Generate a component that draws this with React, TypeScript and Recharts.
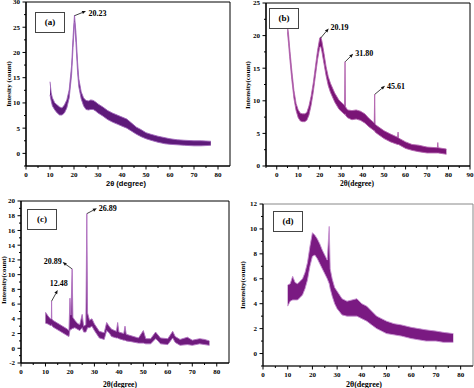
import React from 'react';
import {
  ComposedChart,
  Area,
  XAxis,
  YAxis,
  ReferenceArea,
  ReferenceLine,
  ReferenceDot,
} from 'recharts';

const SERIF = '"Liberation Serif", "Times New Roman", serif';
const SANS = '"Liberation Sans", Arial, sans-serif';

// panel (a)
const angleA = [10, 10.5, 11, 12, 13, 14, 15, 16, 17, 18, 19, 19.6, 20.2, 20.8, 21.5, 22, 23, 24, 25, 26, 27, 28, 29, 30, 32, 34, 36, 38, 40, 42, 44, 46, 48, 50, 52, 55, 58, 60, 63, 66, 70, 73, 77];
const lowA = [11.6, 10.4, 9.4, 8.6, 8.0, 7.6, 7.6, 8.0, 9.0, 11.0, 15.6, 21.0, 26.0, 22.0, 16.0, 13.2, 10.8, 9.4, 8.7, 8.6, 8.7, 8.7, 8.4, 8.0, 7.4, 6.7, 6.2, 5.8, 5.4, 5.0, 4.4, 3.8, 3.3, 2.9, 2.6, 2.2, 1.9, 1.8, 1.7, 1.6, 1.5, 1.5, 1.6];
const highA = [14.2, 12.0, 11.0, 10.0, 9.6, 9.2, 9.0, 9.6, 10.6, 12.6, 17.4, 23.0, 27.4, 24.0, 18.0, 14.8, 12.2, 11.0, 10.5, 10.4, 10.6, 10.5, 10.2, 9.8, 9.2, 8.5, 8.0, 7.6, 7.2, 6.8, 6.0, 5.2, 4.7, 4.1, 3.8, 3.4, 3.1, 2.9, 2.7, 2.6, 2.5, 2.5, 2.4];

// panel (b)
const angleB = [5, 5.5, 6, 7, 8, 9, 10, 11, 12, 13, 14, 15, 16, 17, 18, 19, 20, 20.5, 21, 22, 23, 24, 25, 27, 29, 31.6, 31.8, 32, 33, 35, 37, 39, 41, 43, 45.4, 45.61, 45.8, 47, 50, 53, 56.3, 56.5, 56.7, 60, 63, 66, 70, 74.8, 75, 75.2, 79];
const lowB = [20.5, 18.8, 16.8, 13.3, 10.4, 8.5, 7.4, 6.9, 6.8, 6.8, 7.0, 7.8, 9.3, 11.3, 13.8, 16.3, 18.2, 18.3, 17.6, 15.7, 13.8, 12.3, 11.3, 9.8, 8.7, 7.9, 8.0, 7.8, 7.4, 7.1, 7.2, 7.0, 6.6, 6.0, 5.4, 5.4, 5.2, 4.9, 4.2, 3.7, 3.3, 3.3, 3.3, 2.7, 2.4, 2.2, 2.0, 2.0, 2.0, 2.0, 1.8];
const highB = [21.6, 20.2, 18.2, 14.7, 11.6, 9.6, 8.6, 8.1, 8.0, 8.0, 8.2, 9.2, 10.7, 12.7, 15.2, 17.7, 19.6, 19.8, 19.2, 17.3, 15.2, 13.7, 12.7, 11.2, 10.1, 9.3, 16.0, 9.1, 8.6, 8.5, 8.6, 8.4, 8.0, 7.3, 6.6, 11.0, 6.4, 6.1, 5.4, 4.9, 4.4, 5.2, 4.3, 3.7, 3.3, 3.2, 2.9, 2.8, 3.6, 2.8, 2.6];

// panel (c)
const angleC = [10, 11, 12, 12.4, 12.5, 12.6, 13, 15, 17, 19, 19.6, 20, 20.4, 20.9, 21.2, 22, 23, 24, 25, 25.6, 26.5, 26.9, 27.2, 28, 29, 30, 32, 34, 35, 36, 37, 39, 39.5, 40, 42, 42.5, 43, 45, 48, 50, 51, 53, 55, 56, 57, 60, 62, 63, 65, 68, 70, 73, 75, 77];
const lowC = [3.4, 3.3, 3.1, 3.1, 3.2, 3.1, 2.9, 2.5, 2.1, 1.7, 1.6, 2.5, 2.5, 2.7, 2.7, 2.8, 2.6, 2.4, 2.8, 2.2, 2.2, 2.5, 2.8, 2.8, 3.0, 2.4, 1.4, 1.2, 2.4, 2.1, 1.6, 1.4, 1.4, 1.3, 1.1, 1.1, 1.0, 0.9, 0.7, 0.7, 0.6, 0.6, 1.3, 1.0, 0.6, 0.5, 1.4, 0.8, 0.4, 0.5, 0.4, 0.6, 0.5, 0.4];
const highC = [4.9, 4.4, 4.0, 4.0, 6.4, 4.0, 3.8, 3.4, 3.0, 2.6, 2.4, 6.8, 4.5, 10.8, 4.2, 3.8, 3.4, 3.2, 4.6, 3.0, 3.2, 18.3, 4.8, 3.8, 4.0, 3.3, 2.3, 2.1, 3.5, 3.0, 2.6, 2.3, 3.5, 2.2, 2.0, 3.0, 1.9, 1.7, 1.4, 2.4, 1.3, 1.3, 2.2, 1.8, 1.4, 1.3, 2.3, 1.6, 1.2, 1.5, 1.1, 1.3, 1.2, 1.0];

// panel (d)
const angleD = [10, 11, 12, 13, 14, 15, 16, 17, 18, 19, 20, 21, 22, 23, 24, 25, 26, 26.8, 27.2, 28, 29, 30, 32, 34, 36, 38, 40, 42, 44, 46, 48, 50, 53, 56, 60, 63, 66, 70, 73, 77];
const lowD = [3.8, 4.2, 4.3, 4.3, 4.3, 4.5, 4.7, 5.2, 5.9, 7.0, 7.8, 7.9, 7.6, 7.2, 6.8, 6.4, 6.0, 5.6, 5.2, 4.6, 4.0, 3.6, 3.1, 3.0, 3.0, 3.0, 2.8, 2.6, 2.3, 2.0, 1.8, 1.6, 1.5, 1.4, 1.2, 1.1, 1.0, 1.0, 0.9, 0.9];
const highD = [5.5, 5.6, 6.2, 5.7, 5.6, 5.8, 6.0, 6.5, 7.3, 8.6, 9.7, 9.5, 9.2, 8.8, 8.3, 7.9, 7.5, 10.2, 6.8, 6.0, 5.3, 5.0, 4.4, 4.2, 4.3, 4.4, 4.0, 3.8, 3.4, 3.0, 2.8, 2.6, 2.4, 2.3, 2.1, 2.0, 1.9, 1.8, 1.7, 1.6];

const buildBand = (angle: number[], low: number[], high: number[]) =>
  angle.map((a, i) => ({ angle: a, band: [low[i], high[i]] }));

const steps = (from: number, to: number, step: number) => {
  const out: number[] = [];
  for (let v = from; v <= to + 1e-9; v += step) out.push(Math.round(v * 100) / 100);
  return out;
};

const makeXTick = (major: number, size: number) => (props: any) => {
  const { x, y, payload } = props;
  const isMajor = Math.abs(payload.value % major) < 1e-6;
  return (
    <g>
      <line x1={x} y1={y} x2={x} y2={y + (isMajor ? 3.5 : 2)} stroke="#000" strokeWidth={1} />
      {isMajor && (
        <text x={x} y={y + 10.5} textAnchor="middle" fontSize={size} fontWeight="bold" fontFamily={SERIF} fill="#000">
          {payload.value}
        </text>
      )}
    </g>
  );
};

const makeYTick = (major: number, size: number) => (props: any) => {
  const { x, y, payload } = props;
  const isMajor = Math.abs(payload.value % major) < 1e-6;
  return (
    <g>
      <line x1={x} y1={y} x2={x - (isMajor ? 3.5 : 2)} y2={y} stroke="#000" strokeWidth={1} />
      {isMajor && (
        <text x={x - 6} y={y + 2.4} textAnchor="end" fontSize={size} fontWeight="bold" fontFamily={SERIF} fill="#000">
          {payload.value}
        </text>
      )}
    </g>
  );
};

const arrowShape = (p: any) => {
  const { x1, y1, x2, y2 } = p;
  const ang = Math.atan2(y2 - y1, x2 - x1);
  const L = 4;
  const W = 1.6;
  const bx = x2 - L * Math.cos(ang);
  const by = y2 - L * Math.sin(ang);
  const nx = -Math.sin(ang) * W;
  const ny = Math.cos(ang) * W;
  return (
    <g>
      <line x1={x1} y1={y1} x2={bx} y2={by} stroke="#111" strokeWidth={0.8} />
      <polygon points={`${x2},${y2} ${bx + nx},${by + ny} ${bx - nx},${by - ny}`} fill="#111" />
    </g>
  );
};

interface Note {
  text: string;
  tx: number;
  ty: number;
  from: [number, number];
  to: [number, number];
}

interface PanelProps {
  data: { angle: number; band: number[] }[];
  left: number;
  top: number;
  margin: { top: number; right: number; left: number; bottom: number };
  yWidth: number;
  xHeight: number;
  xDomain: [number, number];
  yDomain: [number, number];
  xTicks: number[];
  yTicks: number[];
  xMajor: number;
  yMajor: number;
  fill: string;
  edge: string;
  frame: string;
  notes: Note[];
}

function Panel(p: PanelProps) {
  return (
    <div style={{ position: 'absolute', left: p.left, top: p.top }}>
      <ComposedChart width={237} height={194} data={p.data} margin={p.margin}>
        <XAxis
          dataKey="angle"
          type="number"
          domain={p.xDomain}
          ticks={p.xTicks}
          interval={0}
          height={p.xHeight}
          tickSize={0}
          tickMargin={0}
          tickLine={false}
          axisLine={{ stroke: '#000', strokeWidth: 1.2 }}
          tick={makeXTick(p.xMajor, 7)}
          allowDataOverflow
        />
        <YAxis
          type="number"
          domain={p.yDomain}
          ticks={p.yTicks}
          interval={0}
          width={p.yWidth}
          tickSize={0}
          tickMargin={0}
          tickLine={false}
          axisLine={{ stroke: '#000', strokeWidth: 1.2 }}
          tick={makeYTick(p.yMajor, 7)}
          allowDataOverflow
        />
        <ReferenceArea
          x1={p.xDomain[0]}
          x2={p.xDomain[1]}
          y1={p.yDomain[0]}
          y2={p.yDomain[1]}
          fill="none"
          stroke={p.frame}
          strokeWidth={1}
          ifOverflow="visible"
        />
        <Area
          dataKey="band"
          type="linear"
          stroke={p.edge}
          strokeWidth={0.9}
          fill={p.fill}
          fillOpacity={1}
          dot={false}
          activeDot={false}
          isAnimationActive={false}
        />
        {p.notes.map((n) => (
          <ReferenceLine
            key={n.text + 'l'}
            segment={[{ x: n.from[0], y: n.from[1] }, { x: n.to[0], y: n.to[1] }]}
            shape={arrowShape}
            ifOverflow="visible"
          />
        ))}
        {p.notes.map((n) => (
          <ReferenceDot
            key={n.text + 'd'}
            x={n.tx}
            y={n.ty}
            r={0}
            fill="none"
            stroke="none"
            ifOverflow="visible"
            label={{ value: n.text, position: 'center', fontSize: 8, fontWeight: 'bold', fontFamily: SERIF, fill: '#000' }}
          />
        ))}
      </ComposedChart>
    </div>
  );
}

const boxStyle = (left: number, top: number): React.CSSProperties => ({
  position: 'absolute',
  left,
  top,
  width: 28,
  height: 19,
  border: '1px solid #444',
  fontFamily: SERIF,
  fontWeight: 'bold',
  fontSize: 9,
  lineHeight: '19px',
  textAlign: 'center',
  background: '#fff',
});

const yTitle = (text: string, cx: number, cy: number): React.ReactNode => (
  <div
    style={{
      position: 'absolute',
      left: cx,
      top: cy,
      transform: 'translate(-50%, -50%) rotate(-90deg)',
      whiteSpace: 'nowrap',
      fontFamily: SERIF,
      fontWeight: 'bold',
      fontSize: 7,
    }}
  >
    {text}
  </div>
);

const xTitle = (text: string, cx: number, cy: number, font: string, size: number): React.ReactNode => (
  <div
    style={{
      position: 'absolute',
      left: cx,
      top: cy,
      transform: 'translate(-50%, -50%)',
      whiteSpace: 'nowrap',
      fontFamily: font,
      fontWeight: 'bold',
      fontSize: size,
    }}
  >
    {text}
  </div>
);

export default function App() {
  return (
    <div style={{ position: 'absolute', left: 0, top: 0, width: 474, height: 388, background: '#fff', overflow: 'hidden' }}>
      <Panel
        data={buildBand(angleA, lowA, highA)}
        left={0}
        top={0}
        margin={{ top: 2, right: 7, left: 0, bottom: 0 }}
        yWidth={26}
        xHeight={28}
        xDomain={[0, 85]}
        yDomain={[-2.5, 30]}
        xTicks={steps(0, 80, 5)}
        yTicks={steps(-2.5, 30, 2.5)}
        xMajor={10}
        yMajor={5}
        fill="#5e1a7a"
        edge="#a067bb"
        frame="#000"
        notes={[{ text: '20.23', tx: 29.8, ty: 27.8, from: [20.3, 27.3], to: [25.0, 28.2] }]}
      />
      <Panel
        data={buildBand(angleB, lowB, highB)}
        left={237}
        top={0}
        margin={{ top: 3, right: 4, left: 0, bottom: 0 }}
        yWidth={29}
        xHeight={28}
        xDomain={[-5, 90]}
        yDomain={[0, 25]}
        xTicks={steps(-5, 90, 5)}
        yTicks={steps(0, 25, 2.5)}
        xMajor={10}
        yMajor={5}
        fill="#7a1476"
        edge="#b466b0"
        frame="#000"
        notes={[
          { text: '20.19', tx: 29.2, ty: 21.3, from: [20.4, 19.6], to: [24.2, 21.1] },
          { text: '31.80', tx: 40.7, ty: 17.3, from: [31.9, 16.0], to: [35.6, 17.2] },
          { text: '45.61', tx: 55.5, ty: 12.3, from: [45.7, 11.0], to: [50.4, 12.3] },
        ]}
      />
      <Panel
        data={buildBand(angleC, lowC, highC)}
        left={0}
        top={194}
        margin={{ top: 7, right: 8, left: 0, bottom: 0 }}
        yWidth={21}
        xHeight={25}
        xDomain={[0, 85]}
        yDomain={[-2, 20]}
        xTicks={steps(0, 80, 5)}
        yTicks={steps(-2, 20, 1)}
        xMajor={10}
        yMajor={2}
        fill="#6e1a7c"
        edge="#b070c0"
        frame="#000"
        notes={[
          { text: '26.89', tx: 35.5, ty: 19.0, from: [27.0, 18.3], to: [31.0, 19.0] },
          { text: '20.89', tx: 13.0, ty: 11.8, from: [20.8, 10.8], to: [17.0, 11.7] },
          { text: '12.48', tx: 15.4, ty: 8.8, from: [12.5, 6.4], to: [15.0, 7.9] },
        ]}
      />
      <Panel
        data={buildBand(angleD, lowD, highD)}
        left={237}
        top={194}
        margin={{ top: 10, right: 1, left: 0, bottom: 0 }}
        yWidth={26}
        xHeight={22}
        xDomain={[0, 85]}
        yDomain={[-1, 12]}
        xTicks={steps(0, 80, 5)}
        yTicks={steps(-1, 12, 1)}
        xMajor={10}
        yMajor={2}
        fill="#7a1a82"
        edge="#c690d0"
        frame="#888"
        notes={[]}
      />

      <div style={boxStyle(35, 12)}>(a)</div>
      <div style={boxStyle(269, 8)}>(b)</div>
      <div style={boxStyle(27, 209)}>(c)</div>
      <div style={boxStyle(273, 211)}>(d)</div>

      {yTitle('Intesity (count)', 9, 84)}
      {yTitle('Intensity(count)', 248, 85)}
      {yTitle('Intensity(count)', 4, 280)}
      {yTitle('Intensity(count)', 243, 285)}

      {xTitle('2θ (degree)', 126, 183, SANS, 7.5)}
      {xTitle('2θ(degree)', 357, 183, SERIF, 7.5)}
      {xTitle('2θ(degree)', 120, 384, SERIF, 7.5)}
      {xTitle('2θ(degree)', 364, 384, SERIF, 8)}
    </div>
  );
}
